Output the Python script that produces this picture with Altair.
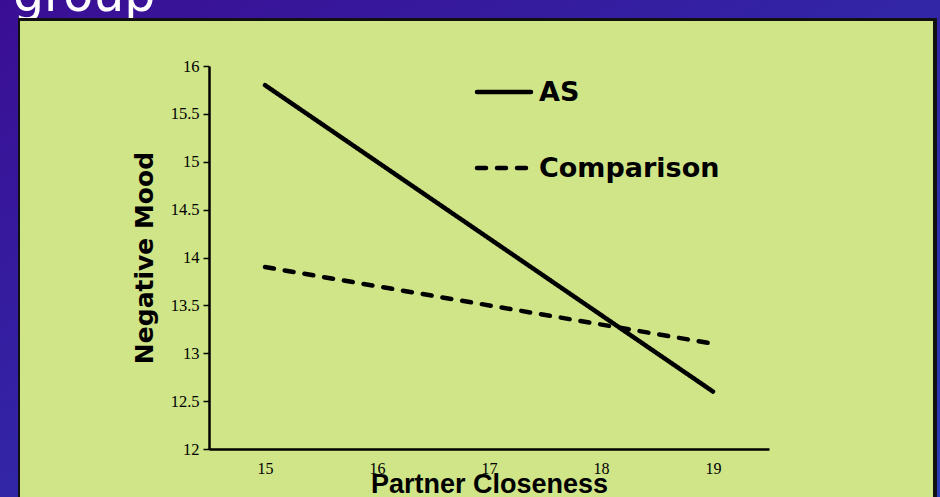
import altair as alt
import pandas as pd

closeness = [15, 19]
as_mood = [15.8, 12.6]
comparison_mood = [13.9, 13.1]
series_names = ["AS", "Comparison"]
x_ticks = [15, 16, 17, 18, 19]
y_ticks = [12, 12.5, 13, 13.5, 14, 14.5, 15, 15.5, 16]

rows = []
for x, v in zip(closeness, as_mood):
    rows.append({"closeness": x, "mood": v, "group": series_names[0]})
for x, v in zip(closeness, comparison_mood):
    rows.append({"closeness": x, "mood": v, "group": series_names[1]})
df = pd.DataFrame(rows)

one = pd.DataFrame({"k": [0]})

W, H = 560, 383
PL, PT = 209, 66
DASHES = [[1, 0], [9, 11]]

bg = alt.Chart(one).mark_rect(
    fill=alt.Gradient(
        gradient="linear",
        stops=[alt.GradientStop(color="#3a0e94", offset=0),
               alt.GradientStop(color="#2a3db9", offset=1)],
        x1=0, y1=0, x2=1, y2=1,
    )
).encode(x=alt.value(-PL), x2=alt.value(940 - PL), y=alt.value(-PT), y2=alt.value(497 - PT))

title_txt = alt.Chart(one).mark_text(
    text="group", color="white", font="DejaVu Sans", fontSize=49,
    align="left", baseline="alphabetic"
).encode(x=alt.value(13 - PL), y=alt.value(11 - PT))

shadow = alt.Chart(one).mark_rect(fill="#111111").encode(
    x=alt.value(18 - PL), x2=alt.value(937 - PL), y=alt.value(18 - PT), y2=alt.value(500 - PT))
panel = alt.Chart(one).mark_rect(fill="#cfe587").encode(
    x=alt.value(20 - PL), x2=alt.value(933 - PL), y=alt.value(21 - PT), y2=alt.value(500 - PT))

dash_scale = alt.Scale(domain=series_names, range=DASHES)

lines = alt.Chart(df).mark_line(color="black", strokeWidth=4.5, strokeCap="round").encode(
    x=alt.X("closeness:Q",
            scale=alt.Scale(domain=[14.5, 19.5], nice=False, zero=False),
            axis=alt.Axis(values=x_ticks, title="Partner Closeness", ticks=False,
                          grid=False, format="d", labelFont="Liberation Serif",
                          labelFontSize=16, labelColor="black", labelPadding=11,
                          domainColor="black", domainWidth=2.5,
                          titleFont="Liberation Sans", titleFontSize=27,
                          titleFontWeight="bold", titleColor="black",
                          titleBaseline="alphabetic", titleY=43, zindex=2)),
    y=alt.Y("mood:Q",
            scale=alt.Scale(domain=[12, 16], nice=False, zero=False),
            axis=alt.Axis(values=y_ticks, title="Negative Mood", grid=False, format="~g",
                          labelFont="Liberation Serif", labelFontSize=16.5, labelColor="black",
                          labelPadding=4, tickSize=6, tickColor="black", tickWidth=1.5,
                          domainColor="black", domainWidth=2.5,
                          titleFont="DejaVu Sans", titleFontSize=25,
                          titleFontWeight="bold", titleColor="black",
                          titleAngle=-90, titleAlign="center", titleBaseline="middle",
                          titleX=-65, titleY=H / 2, zindex=2)),
    strokeDash=alt.StrokeDash("group:N", scale=dash_scale, legend=None),
    detail="group:N",
)

# manual legend (decoration)
leg_df = pd.DataFrame({"group": series_names})
leg_y = {"AS": 92 - PT, "Comparison": 168 - PT}
legend_layers = []
for name in series_names:
    sub = alt.Chart(leg_df).transform_filter(alt.datum.group == name)
    legend_layers.append(
        sub.mark_rule(color="black", strokeWidth=4.5, strokeCap="round").encode(
            x=alt.value(477 - PL), x2=alt.value(531 - PL), y=alt.value(leg_y[name]),
            strokeDash=alt.StrokeDash("group:N", scale=dash_scale, legend=None),
        )
    )
    legend_layers.append(
        sub.mark_text(align="left", baseline="middle", font="DejaVu Sans",
                      fontSize=27, fontWeight="bold", color="black").encode(
            x=alt.value(539 - PL), y=alt.value(leg_y[name] + 1), text="group:N",
        )
    )

chart = alt.layer(bg, title_txt, shadow, panel, lines, *legend_layers).properties(
    width=W, height=H,
    padding={"left": PL, "top": PT, "right": 940 - PL - W, "bottom": 497 - PT - H},
    autosize=alt.AutoSizeParams(type="none"),
).configure_view(strokeWidth=0)

chart.save("out.html", embed_options={"renderer": "svg", "actions": False})
